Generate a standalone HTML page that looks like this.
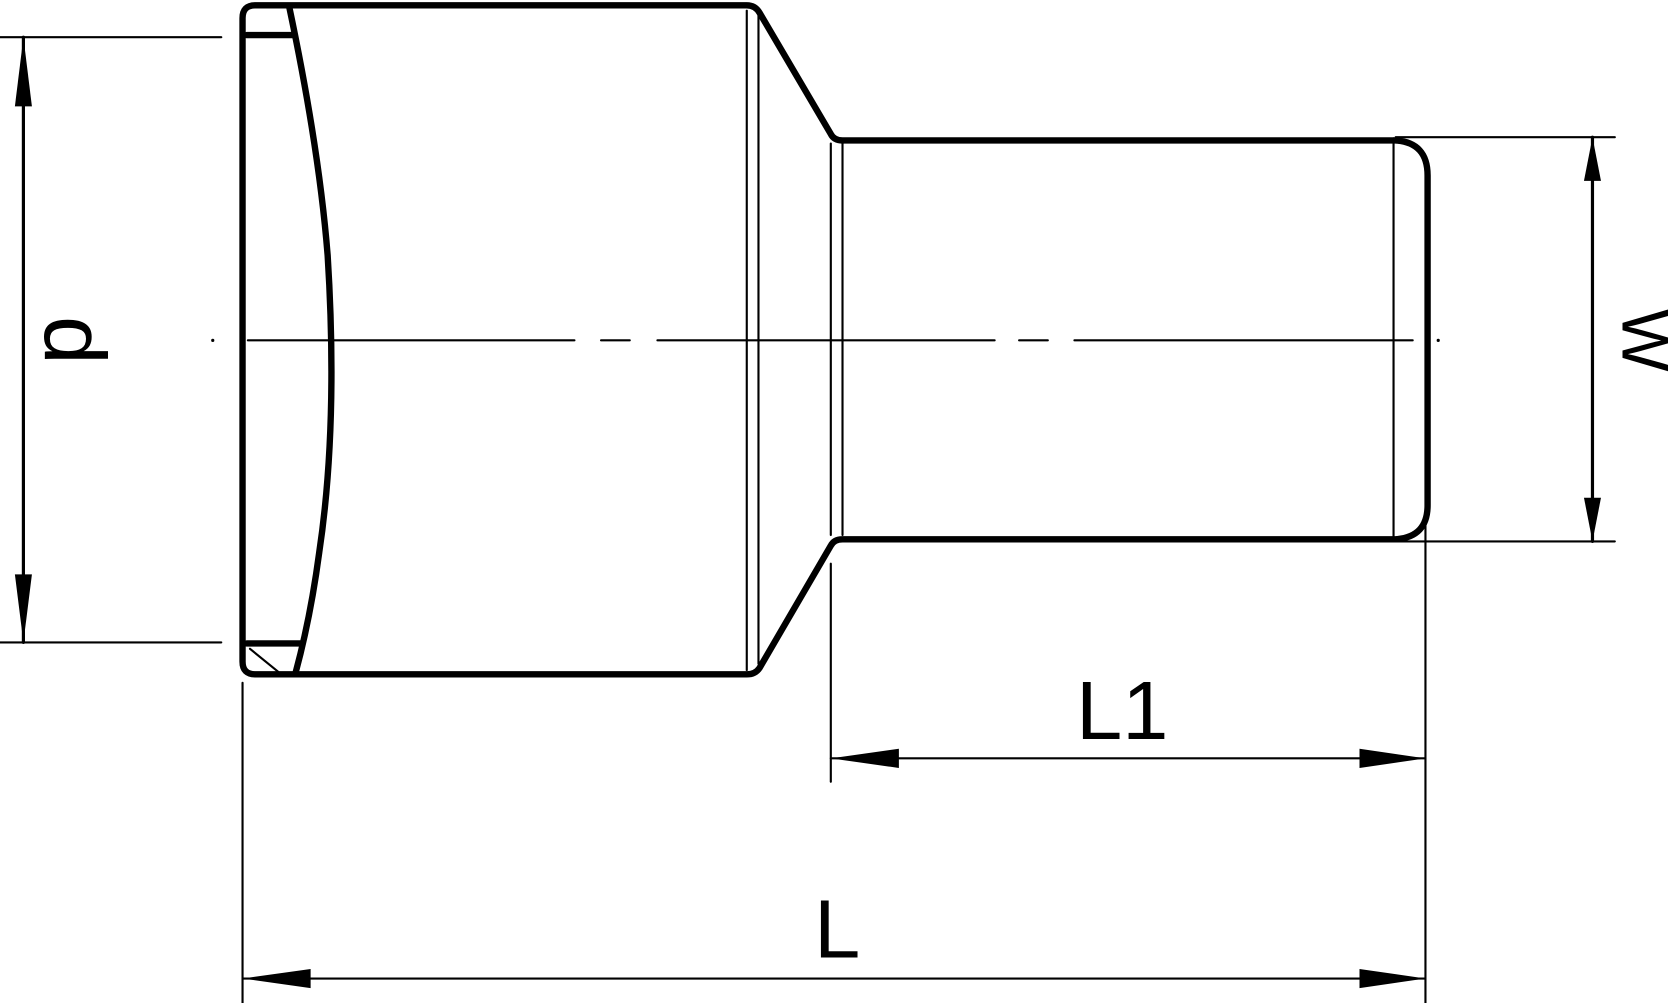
<!DOCTYPE html>
<html><head><style>html,body{margin:0;padding:0;background:#fff;width:1668px;height:1003px;overflow:hidden}</style></head>
<body>
<svg width="1668" height="1003" viewBox="0 0 1568 943" preserveAspectRatio="none" xmlns="http://www.w3.org/2000/svg">
<g fill="none" stroke="#000" stroke-linecap="round" stroke-linejoin="round">
<path d="M240,5 L702,5 Q710,5 714,12 L781,126 Q784,132 792,132 L1312,132 Q1342,134 1342,165 L1342,475 Q1342,505 1312,507 L792,507 Q784,507 781,513 L714,628 Q710,634 702,634 L240,634 Q228,634 228,622 L228,17 Q228,5 240,5 Z" stroke-width="6"/>
<line x1="232" y1="33" x2="275" y2="33" stroke-width="6"/>
<line x1="232" y1="605" x2="282" y2="605" stroke-width="6"/>
<path d="M272,7 Q300,140 308,240 Q318,400 300,520 Q292,580 278,632" stroke-width="6"/>
<line x1="235" y1="610" x2="262" y2="632" stroke-width="2"/>
<g stroke-width="2">
<line x1="702" y1="10" x2="702" y2="630"/>
<line x1="713" y1="14" x2="713" y2="624"/>
<line x1="781" y1="135" x2="781" y2="503"/>
<line x1="792" y1="135" x2="792" y2="503"/>
<line x1="1310" y1="130" x2="1310" y2="508"/>
<line x1="233" y1="320" x2="540" y2="320"/>
<line x1="565" y1="320" x2="592" y2="320"/>
<line x1="618" y1="320" x2="935" y2="320"/>
<line x1="958" y1="320" x2="985" y2="320"/>
<line x1="1010" y1="320" x2="1328" y2="320"/>
<line x1="0" y1="35" x2="208" y2="35"/>
<line x1="0" y1="604" x2="208" y2="604"/>
<line x1="22" y1="35" x2="22" y2="604" stroke-width="3"/>
<line x1="1312" y1="129" x2="1518" y2="129"/>
<line x1="1312" y1="509" x2="1518" y2="509"/>
<line x1="1497" y1="129" x2="1497" y2="509" stroke-width="3"/>
<line x1="781" y1="530" x2="781" y2="735"/>
<line x1="1340" y1="490" x2="1340" y2="943"/>
<line x1="781" y1="713" x2="1340" y2="713"/>
<line x1="228" y1="642" x2="228" y2="943"/>
<line x1="228" y1="920" x2="1340" y2="920"/>
</g>
</g>
<g fill="#000">
<circle cx="200" cy="320" r="1.5"/><circle cx="1352" cy="320" r="1.5"/>
<polygon points="22,35 14,100 30,100"/><polygon points="22,604 14,540 30,540"/>
<polygon points="1497,129 1489,170 1505,170"/><polygon points="1497,509 1489,468 1505,468"/>
<polygon points="781,713 845,704 845,722"/><polygon points="1340,713 1278,704 1278,722"/>
<polygon points="228,920 292,911 292,929"/><polygon points="1340,920 1278,911 1278,929"/>
<text x="1055" y="695" font-family="Liberation Sans, sans-serif" font-size="78" text-anchor="middle">L1</text>
<text x="787" y="900" font-family="Liberation Sans, sans-serif" font-size="78" text-anchor="middle">L</text>
<text transform="translate(42,320) rotate(90)" font-family="Liberation Sans, sans-serif" font-size="82" text-anchor="middle">d</text>
<text transform="translate(1525,320) rotate(90)" font-family="Liberation Sans, sans-serif" font-size="62" text-anchor="middle">W</text>
</g>
</svg>
</body></html>
